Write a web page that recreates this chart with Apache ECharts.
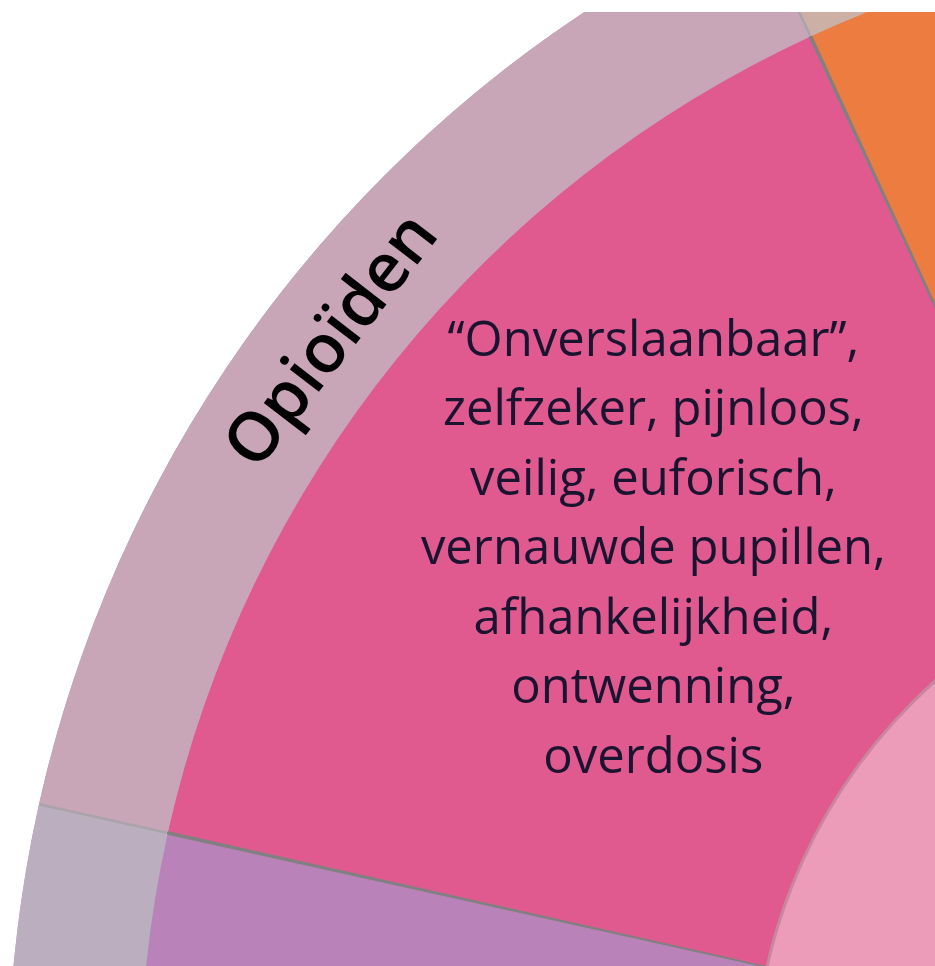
<!DOCTYPE html>
<html>
<head>
<meta charset="utf-8">
<script src="https://cdn.jsdelivr.net/npm/echarts@6/dist/echarts.min.js"></script>
<style>
html,body{margin:0;padding:0;background:#fff;width:935px;height:966px;overflow:hidden;}
#chart{position:absolute;left:0;top:12px;width:935px;height:954px;}
</style>
</head>
<body>
<div id="chart"></div>
<script>
// Categories of the drug wheel (outer ring), clockwise starting with Opioïden
const categories = ['Opio\u00EFden', 'Stimulantia', 'Cat3', 'Cat4', 'Cat5', 'Cat6', 'Dempende middelen'];
// Angular share of each category (degrees)
const shares = [52.6, 51, 52, 50, 52, 51, 51.4];
// Effects text per category (middle ring); only the Opioïden one is visible
const effects = [
  ['\u201COnverslaanbaar\u201D,', 'zelfzeker, pijnloos,', 'veilig, euforisch,', 'vernauwde pupillen,', 'afhankelijkheid,', 'ontwenning,', 'overdosis'],
  [], [], [], [], [], []
];
const outerColors = ['#C8A5B7', '#CCB0A6', '#C9C3A8', '#B7C3BE', '#B8B8CC', '#C4B4C6', '#BBAEBF'];
const middleColors = ['#E05A8F', '#EC7C40', '#E8C040', '#6DB59B', '#6F86C4', '#A57BC0', '#B982B8'];
const coreColor = '#EC9BB9';

const CX = 1295, CY = 1073;
const R_CORE = 541, R_MID = 1156, R_OUT = 1287;
const START = 167.4;

const chart = echarts.init(document.getElementById('chart'), null, {renderer: 'canvas'});

const outerData = categories.map((c, i) => ({
  name: c, value: shares[i],
  itemStyle: {color: outerColors[i]}
}));
const middleData = categories.map((c, i) => ({
  name: c, value: shares[i],
  itemStyle: {color: middleColors[i]},
  label: {show: effects[i].length > 0, formatter: effects[i].join('\n')}
}));

// Category label along the outer ring, placed at the middle angle of its sector
const total = shares.reduce((a, b) => a + b, 0);
const catGraphics = [];
let acc = 0;
categories.forEach((c, i) => {
  const midDeg = START - (acc + shares[i] / 2) * 360 / total + 1.2;
  acc += shares[i];
  if (i !== 0) return;
  const a = midDeg * Math.PI / 180;
  const r = (R_MID + R_OUT) / 2 - 6;
  catGraphics.push({
    type: 'text',
    x: CX + r * Math.cos(a),
    y: CY - r * Math.sin(a),
    rotation: a - Math.PI / 2,
    z: 100,
    style: {
      text: c, fill: '#000000',
      font: '600 68px "Open Sans"',
      align: 'center', verticalAlign: 'middle'
    }
  });
});

chart.setOption({
  animation: false,
  backgroundColor: '#ffffff',
  graphic: catGraphics,
  series: [
    // separator underlays (show through the pad gaps)
    {
      type: 'pie', silent: true, center: [CX, CY], radius: [R_CORE, R_MID],
      data: [{value: 1, itemStyle: {color: '#808080'}}],
      label: {show: false}, labelLine: {show: false}, z: 1
    },
    {
      type: 'pie', silent: true, center: [CX, CY], radius: [R_MID, R_OUT],
      data: [{value: 1, itemStyle: {color: '#aaa4aa'}}],
      label: {show: false}, labelLine: {show: false}, z: 1
    },
    {
      type: 'pie', silent: true, center: [CX, CY], radius: [R_CORE, R_MID],
      startAngle: START, clockwise: true, avoidLabelOverlap: false, padAngle: 0.18,
      data: middleData, z: 2,
      labelLine: {show: false},
      label: {
        position: 'inside', rotate: 0,
        fontFamily: 'Open Sans', fontSize: 49, lineHeight: 69.5,
        color: '#1a1430', align: 'center',
        padding: [0, 0, 50, 42]
      }
    },
    {
      type: 'pie', silent: true, center: [CX, CY], radius: [R_MID - 1, R_OUT],
      startAngle: START, clockwise: true, avoidLabelOverlap: false, padAngle: 0.12,
      data: outerData, z: 3,
      labelLine: {show: false},
      label: {show: false}
    },
    {
      type: 'pie', silent: true, center: [CX, CY], radius: [0, R_CORE],
      data: [{name: 'kern', value: 1, itemStyle: {color: coreColor}}],
      label: {show: false}, labelLine: {show: false}, z: 4,
      itemStyle: {borderColor: '#C8879F', borderWidth: 3}
    }
  ]
});
</script>
</body>
</html>
